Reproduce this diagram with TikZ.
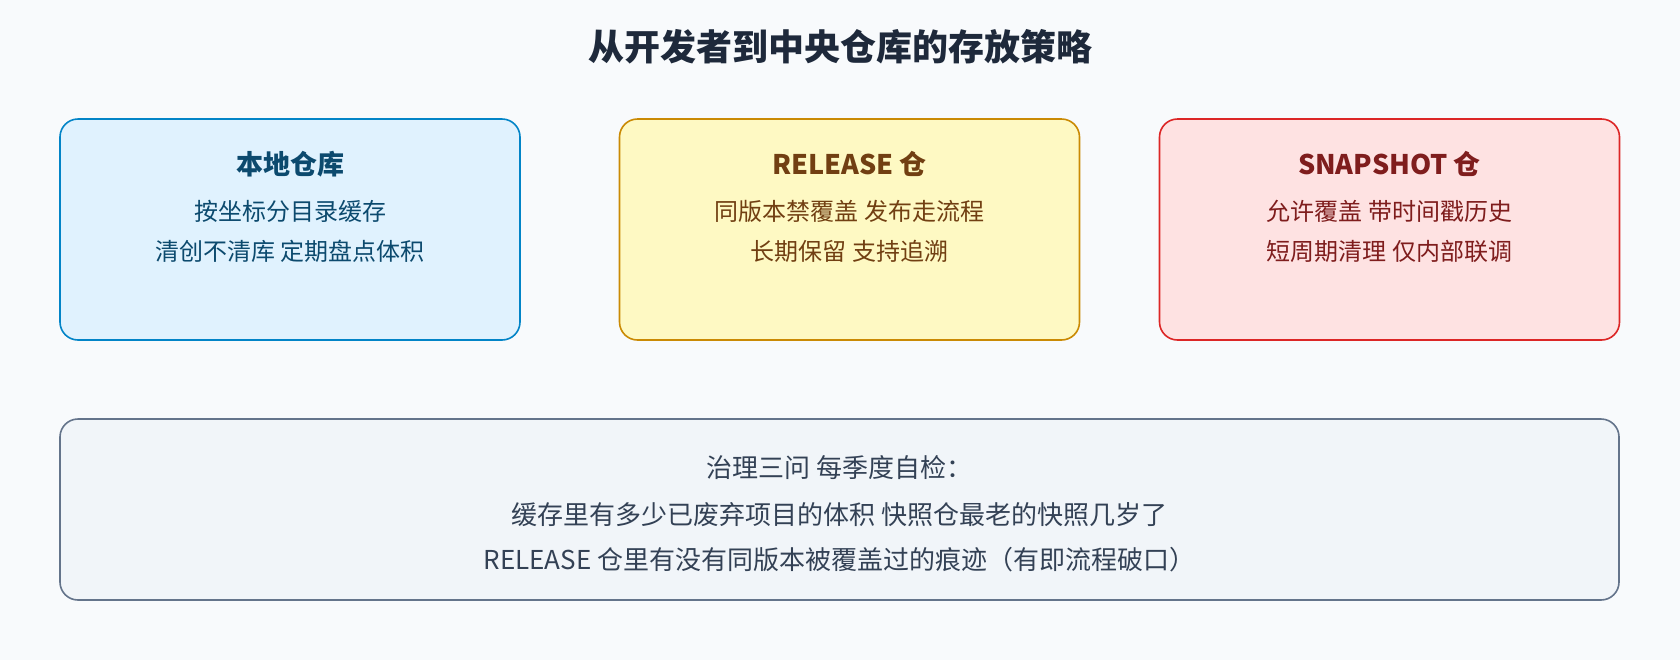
\documentclass[tikz,border=0pt]{standalone}
\usepackage{fontspec}
\setmainfont{Noto Sans CJK SC}
\usepackage{xcolor}
\usepackage{tikz}
\usetikzlibrary{positioning}
\definecolor{pagebg}{HTML}{F8FAFC}
\definecolor{titlecol}{HTML}{1E293B}
\definecolor{localfill}{HTML}{E0F2FE}
\definecolor{localdraw}{HTML}{0284C7}
\definecolor{localtext}{HTML}{0C4A6E}
\definecolor{relfill}{HTML}{FEF9C3}
\definecolor{reldraw}{HTML}{CA8A04}
\definecolor{reltext}{HTML}{713F12}
\definecolor{snapfill}{HTML}{FEE2E2}
\definecolor{snapdraw}{HTML}{DC2626}
\definecolor{snaptext}{HTML}{7F1D1D}
\definecolor{govfill}{HTML}{F1F5F9}
\definecolor{govdraw}{HTML}{64748B}
\definecolor{govtext}{HTML}{334155}

\begin{document}
\begin{tikzpicture}[x=0.5pt,y=-0.5pt,
	repo/.style={draw,rounded corners=9pt,line width=0.8pt,inner sep=0pt,minimum width=230pt,minimum height=110.5pt},
	head/.style={font=\bfseries\fontsize{13.5}{16}\selectfont},
	txt/.style={font=\fontsize{12}{14}\selectfont},
	gtxt/.style={font=\fontsize{13}{15}\selectfont}]
		\fill[pagebg] (0,0) rectangle (1680,660);
		\useasboundingbox (0,0) rectangle (1680,660);
		%
		\node[titlecol,font=\bfseries\fontsize{18}{21}\selectfont] (T) at (840,47) {从开发者到中央仓库的存放策略};
		%
		\node[repo,draw=localdraw,fill=localfill] (L) at (290,229.5) {};
		\node[head,localtext] (Lh) at (290,164) {本地仓库};
		\node[txt,localtext] (L1) at (290,211) {按坐标分目录缓存};
		\node[txt,localtext] (L2) at (290,251) {清创不清库 定期盘点体积};
		%
		\node[repo,draw=reldraw,fill=relfill] (R) at (849.5,229.5) {};
		\node[head,reltext] (Rh) at (849.5,164) {RELEASE 仓};
		\node[txt,reltext] (R1) at (849.5,211) {同版本禁覆盖 发布走流程};
		\node[txt,reltext] (R2) at (849.5,251) {长期保留 支持追溯};
		%
		\node[repo,draw=snapdraw,fill=snapfill] (S) at (1389.5,229.5) {};
		\node[head,snaptext] (Sh) at (1389.5,164) {SNAPSHOT 仓};
		\node[txt,snaptext] (S1) at (1389.5,211) {允许覆盖 带时间戳历史};
		\node[txt,snaptext] (S2) at (1389.5,251) {短周期清理 仅内部联调};
		%
		\node[repo,draw=govdraw,fill=govfill,minimum width=779.5pt,minimum height=90.5pt] (G) at (839.5,509.5) {};
		\node[gtxt,govtext] (G1) at (839.5,468) {治理三问 每季度自检：};
		\node[gtxt,govtext] (G2) at (839.5,515) {缓存里有多少已废弃项目的体积 快照仓最老的快照几岁了};
		\node[gtxt,govtext] (G3) at (839.5,560) {RELEASE 仓里有没有同版本被覆盖过的痕迹（有即流程破口）};
	\end{tikzpicture}
\end{document}
